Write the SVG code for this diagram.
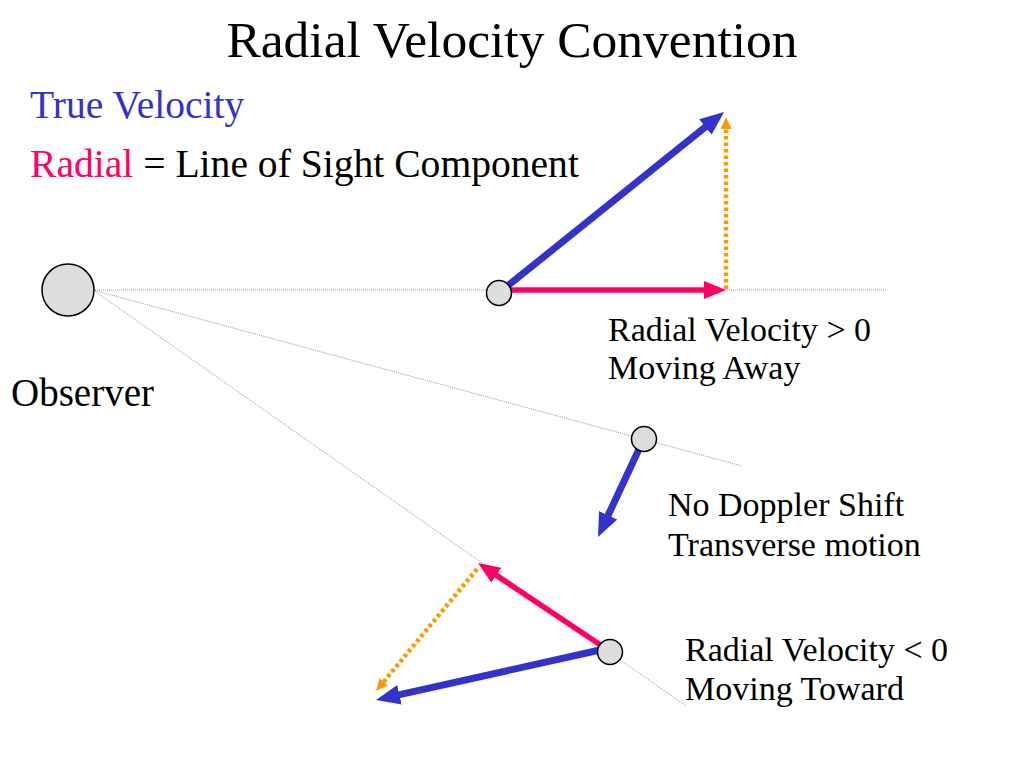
<svg xmlns="http://www.w3.org/2000/svg" width="1024" height="768" viewBox="0 0 1024 768">
<style>
text{font-family:"Liberation Serif","Times New Roman",serif;fill:#000}
.title{font-size:51.5px}
.head{font-size:39.6px}
.obs{font-size:39px}
.lbl{font-size:34px}
.sight{stroke:#9a9a9a;stroke-width:1;stroke-dasharray:1 1;fill:none}
.blue{stroke:#3333cc;stroke-width:7;fill:none}
.pink{stroke:#ff0066;stroke-width:5.5;fill:none}
.orange{stroke:#ff9900;stroke-width:4.5;stroke-dasharray:3.5 3;fill:none}
.obj{fill:#dddddd;stroke:#000;stroke-width:1.5}
</style>
<defs>
<marker id="ahBlue" markerUnits="userSpaceOnUse" markerWidth="24" markerHeight="20" refX="2" refY="10" orient="auto"><path d="M0,0 L24,10 L0,20 z" fill="#3333cc"/></marker>
<marker id="ahPink" markerUnits="userSpaceOnUse" markerWidth="22" markerHeight="18" refX="2" refY="9" orient="auto"><path d="M0,0 L22,9 L0,18 z" fill="#ff0066"/></marker>
<marker id="ahOrange" markerUnits="userSpaceOnUse" markerWidth="12" markerHeight="11" refX="2" refY="5.5" orient="auto"><path d="M0,0 L12,5.5 L0,11 z" fill="#ff9900"/></marker>
</defs>
<rect width="1024" height="768" fill="#fff"/>
<text class="title" x="512" y="57" text-anchor="middle">Radial Velocity Convention</text>
<text class="head" x="30" y="118" style="fill:#3333cc">True Velocity</text>
<text class="head" x="30" y="177"><tspan style="fill:#ff0066">Radial</tspan> = Line of Sight Component</text>
<g id="connectors">
<line class="sight" x1="93" y1="290" x2="886" y2="290"/>
<line class="sight" x1="93" y1="290" x2="742" y2="466"/>
<line class="sight" x1="93" y1="290" x2="686" y2="706"/>
<line class="blue" x1="505" y1="288" x2="706.9" y2="125.8" marker-end="url(#ahBlue)"/>
<line class="pink" x1="511" y1="290" x2="706" y2="290" marker-end="url(#ahPink)"/>
<line class="orange" x1="726" y1="289" x2="726" y2="127" marker-end="url(#ahOrange)"/>
<line class="blue" x1="640" y1="447" x2="607.3" y2="517.1" marker-end="url(#ahBlue)"/>
<line class="pink" x1="602" y1="646" x2="494.6" y2="574.1" marker-end="url(#ahPink)"/>
<line class="blue" x1="600" y1="650" x2="397.5" y2="695.2" marker-end="url(#ahBlue)"/>
<line class="orange" x1="477" y1="569" x2="382.4" y2="683.3" marker-end="url(#ahOrange)"/>
</g>
<g id="observer">
<circle class="obj" cx="68" cy="290" r="26"/>
<text class="obs" x="11" y="406">Observer</text>
</g>
<g id="star-away">
<circle class="obj" cx="499" cy="293" r="12.5"/>
<text class="lbl" x="608" y="341">Radial Velocity &gt; 0</text>
<text class="lbl" x="608" y="379">Moving Away</text>
</g>
<g id="star-transverse">
<circle class="obj" cx="644" cy="439" r="12.5"/>
<text class="lbl" x="668" y="516">No Doppler Shift</text>
<text class="lbl" x="668" y="556">Transverse motion</text>
</g>
<g id="star-toward">
<circle class="obj" cx="610" cy="652" r="12.5"/>
<text class="lbl" x="685" y="661">Radial Velocity &lt; 0</text>
<text class="lbl" x="685" y="700">Moving Toward</text>
</g>
</svg>
